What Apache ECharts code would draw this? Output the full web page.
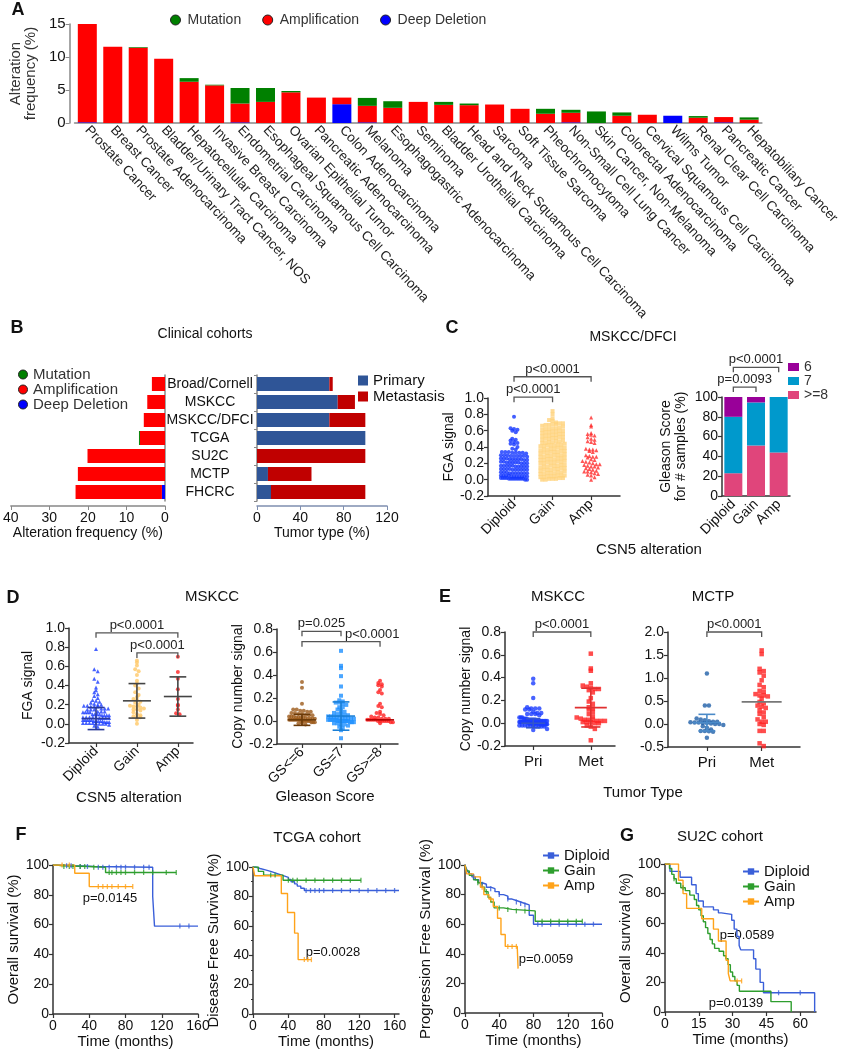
<!DOCTYPE html>
<html>
<head>
<meta charset="utf-8">
<script src="https://cdn.jsdelivr.net/npm/echarts@6/dist/echarts.min.js"></script>
<style>
  html, body { margin: 0; padding: 0; background: #fff; }
  #chart { width: 842px; height: 1050px; }
</style>
</head>
<body>
<div id="chart"></div>
<script>
const FONT = "'Liberation Sans', Arial, sans-serif";

// ---------- A: alteration frequency by cancer type
const cancerTypes = ['Prostate Cancer', 'Breast Cancer', 'Prostate Adenocarcinoma', 'Bladder/Urinary Tract Cancer, NOS',
  'Hepatocellular Carcinoma', 'Invasive Breast Carcinoma', 'Endometrial Carcinoma', 'Esophageal Squamous Cell Carcinoma',
  'Ovarian Epithelial Tumor', 'Pancreatic Adenocarcinoma', 'Colon Adenocarcinoma', 'Melanoma',
  'Esophagogastric Adenocarcinoma', 'Seminoma', 'Bladder Urothelial Carcinoma', 'Head and Neck Squamous Cell Carcinoma',
  'Sarcoma', 'Soft Tissue Sarcoma', 'Pheochromocytoma', 'Non-Small Cell Lung Cancer', 'Skin Cancer, Non-Melanoma',
  'Colorectal Adenocarcinoma', 'Cervical Squamous Cell Carcinoma', 'Wilms Tumor', 'Renal Clear Cell Carcinoma',
  'Pancreatic Cancer', 'Hepatobiliary Cancer'];
const aMutation = [0, 0, 0.1, 0, 0.55, 0.1, 2.35, 2.1, 0.2, 0, 0, 1.2, 1.0, 0, 0.45, 0.25, 0, 0, 0.75, 0.45, 1.75, 0.5, 0, 0, 0.25, 0, 0.35];
const aAmplification = [14.9, 11.55, 11.4, 9.75, 6.25, 5.7, 2.85, 3.2, 4.65, 3.85, 1.0, 2.5, 2.3, 3.2, 2.75, 2.7, 2.8, 2.15, 1.4, 1.45, 0, 1.1, 1.25, 0, 0.8, 0.8, 0.5];
const aDeepDeletion = [0.1, 0, 0, 0, 0, 0, 0.1, 0, 0, 0, 2.85, 0.1, 0, 0, 0, 0, 0, 0, 0, 0.1, 0, 0, 0, 1.1, 0, 0.1, 0];

// ---------- B: clinical cohorts
const cohorts = ['Broad/Cornell', 'MSKCC', 'MSKCC/DFCI', 'TCGA', 'SU2C', 'MCTP', 'FHCRC'];
const bMutation = [0, 0, 0, 0.25, 0, 0, 0];
const bAmplification = [3.4, 4.6, 5.5, 6.5, 20.1, 22.6, 22.4];
const bDeepDeletion = [0, 0, 0, 0, 0, 0, 0.8];
const bPrimary = [66.8, 74.5, 66.8, 100, 0, 10.1, 12.9];
const bMetastasis = [3.1, 15.9, 33.2, 0, 100, 40.2, 87.1];

// ---------- C: MSKCC/DFCI
const cnvGroups = ['Diploid', 'Gain', 'Amp'];
const cFgaDiploid = [0.77, 0.63, 0.62, 0.61, 0.60, 0.58, 0.50, 0.49, 0.48, 0.46, 0.45, 0.44, 0.43, 0.40, 0.38, 0.37,
  0.34, 0.34, 0.34, 0.33, 0.33, 0.33, 0.33, 0.32,
  0.30, 0.30, 0.30, 0.29, 0.29, 0.29, 0.29, 0.29, 0.28,
  0.26, 0.26, 0.26, 0.25, 0.25, 0.25, 0.25, 0.25, 0.24, 0.24,
  0.22, 0.22, 0.21, 0.21, 0.21, 0.21, 0.21, 0.20, 0.20, 0.20,
  0.17, 0.17, 0.17, 0.17, 0.17, 0.16, 0.16, 0.16, 0.16, 0.16,
  0.13, 0.13, 0.13, 0.13, 0.12, 0.12, 0.12, 0.12, 0.12, 0.12,
  0.09, 0.09, 0.09, 0.08, 0.08, 0.08, 0.08, 0.08, 0.08, 0.08,
  0.05, 0.05, 0.05, 0.05, 0.04, 0.04, 0.04, 0.04, 0.04, 0.04, 0.04,
  0.02, 0.02, 0.02, 0.02, 0.01, 0.01, 0.01, 0.01, 0.01, 0.01, 0.01, 0.01, 0.00, 0.00];
const cFgaGain = [0.84, 0.80, 0.75, 0.73, 0.72,
  0.00, 0.00, 0.01, 0.01, 0.01, 0.02, 0.02,
  0.03, 0.03, 0.04, 0.04, 0.04, 0.05, 0.05, 0.05,
  0.07, 0.07, 0.08, 0.08, 0.08, 0.09, 0.09, 0.10,
  0.11, 0.12, 0.12, 0.12, 0.13, 0.13, 0.14, 0.14,
  0.15, 0.16, 0.16, 0.17, 0.17, 0.17, 0.18, 0.18,
  0.20, 0.20, 0.21, 0.21, 0.21, 0.22, 0.22, 0.23,
  0.24, 0.24, 0.25, 0.25, 0.25, 0.26, 0.26, 0.27,
  0.28, 0.28, 0.29, 0.29, 0.30, 0.30, 0.30, 0.31,
  0.32, 0.33, 0.33, 0.34, 0.34, 0.34, 0.35, 0.35,
  0.36, 0.37, 0.37, 0.38, 0.38, 0.39, 0.39, 0.39,
  0.41, 0.41, 0.42, 0.42, 0.42, 0.43, 0.43, 0.44,
  0.45, 0.45, 0.46, 0.46, 0.47, 0.47, 0.48,
  0.49, 0.50, 0.50, 0.51, 0.51, 0.52, 0.52,
  0.53, 0.54, 0.54, 0.55, 0.55, 0.56, 0.56,
  0.57, 0.58, 0.58, 0.59, 0.59, 0.60, 0.60,
  0.61, 0.62, 0.62, 0.63, 0.63, 0.64, 0.65,
  0.66, 0.67, 0.67, 0.68, 0.68, 0.69, 0.69, 0.70];
const cFgaAmp = [0.76, 0.67, 0.65, 0.57, 0.56, 0.55, 0.54, 0.52, 0.50, 0.49, 0.47, 0.46, 0.45, 0.38, 0.37, 0.37, 0.36, 0.35,
  0.34, 0.30, 0.29, 0.28, 0.28, 0.27, 0.25, 0.24, 0.23, 0.22, 0.21, 0.20, 0.19, 0.19, 0.18, 0.17, 0.16, 0.16, 0.15,
  0.14, 0.13, 0.12, 0.11, 0.10, 0.10, 0.09, 0.08, 0.07, 0.06, 0.05, 0.03, 0.00];
const gleasonGroups = ['6', '7', '>=8'];
const gleason6 = [20, 5.5, 0];
const gleason7 = [57, 43.5, 56];
const gleason8 = [23, 51, 44];

// ---------- D: MSKCC
const dFgaDiploid = [0.78, 0.57, 0.55, 0.47, 0.44, 0.38, 0.35, 0.33, 0.31, 0.29, 0.27, 0.25, 0.24, 0.23, 0.22, 0.21,
  0.20, 0.20, 0.19, 0.19, 0.18, 0.18, 0.18, 0.16, 0.16, 0.16, 0.15, 0.15, 0.15,
  0.13, 0.13, 0.13, 0.12, 0.12, 0.12, 0.12, 0.10, 0.10, 0.10, 0.10, 0.09, 0.09, 0.09, 0.09,
  0.07, 0.07, 0.07, 0.07, 0.07, 0.06, 0.06, 0.06, 0.06, 0.04, 0.04, 0.04, 0.04, 0.04, 0.03, 0.03, 0.03, 0.03, 0.03,
  0.02, 0.02, 0.02, 0.01, 0.01, 0.01, 0.01, 0.01, 0.00, 0.00, 0.00, -0.01, -0.02, -0.03];
const dFgaGain = [0.66, 0.64, 0.61, 0.57, 0.55, 0.51, 0.45, 0.42, 0.40, 0.37, 0.33, 0.30, 0.28, 0.26, 0.25, 0.23, 0.22,
  0.20, 0.19, 0.18, 0.18, 0.17, 0.16, 0.15, 0.15, 0.14, 0.12, 0.10, 0.09, 0.08, 0.07, 0.07, 0.04, 0.00];
const dFgaAmp = [0.70, 0.54, 0.47, 0.36, 0.26, 0.20, 0.19, 0.15, 0.11, 0.10];
const dFgaMeanSd = [[0, 0.055, 0.115], [1, 0.24, 0.18], [2, 0.285, 0.205]];
const gleasonScores = ['GS<=6', 'GS=7', 'GS>=8'];
const dCnGs6 = [0.34, 0.29, 0.15, 0.10, 0.10, 0.09, 0.09, 0.08, 0.08, 0.07, 0.07, 0.06, 0.06, 0.05, 0.05, 0.05, 0.04, 0.04,
  0.04, 0.03, 0.03, 0.03, 0.03, 0.02, 0.02, 0.02, 0.02, 0.02, 0.01, 0.01, 0.01, 0.01, 0.01, 0.01, 0.01,
  0.00, 0.00, 0.00, 0.00, 0.00, 0.00, -0.01, -0.01, -0.01, -0.02, -0.02, -0.03];
const dCnGs7 = [0.61, 0.48, 0.46, 0.39, 0.30, 0.22, 0.18, 0.17, 0.16, 0.16, 0.15, 0.14, 0.12, 0.12, 0.10, 0.09, 0.08, 0.07,
  0.06, 0.06, 0.05, 0.05, 0.04, 0.04, 0.04, 0.03, 0.03, 0.03, 0.02, 0.02, 0.02, 0.02, 0.01, 0.01, 0.01, 0.01, 0.01,
  0.00, 0.00, 0.00, 0.00, 0.00, 0.00, -0.01, -0.01, -0.01, -0.02, -0.02, -0.03, -0.03, -0.04, -0.05, -0.06, -0.08, -0.15];
const dCnGs8 = [0.35, 0.33, 0.32, 0.31, 0.30, 0.27, 0.25, 0.24, 0.15, 0.13, 0.12, 0.08, 0.07, 0.06, 0.05, 0.04, 0.03, 0.03,
  0.02, 0.02, 0.02, 0.01, 0.01, 0.01, 0.01, 0.01, 0.00, 0.00, 0.00, 0.00, 0.00, 0.00, -0.01, -0.01, -0.02];
const dCnMeanSd = [[0, 0.01, 0.048], [1, 0.043, 0.123], [2, 0.01, 0]];

// ---------- E: tumor type
const tumorTypes = ['Pri', 'Met'];
const eMskccPri = [0.39, 0.35, 0.22, 0.14, 0.13, 0.13, 0.13, 0.12, 0.12, 0.10, 0.09, 0.09, 0.08, 0.08, 0.08, 0.07,
  0.05, 0.05, 0.05, 0.04, 0.04, 0.04, 0.03, 0.03, 0.03, 0.03, 0.03, 0.03, 0.02, 0.02, 0.02, 0.02, 0.02, 0.02, 0.02, 0.02,
  0.01, 0.01, 0.01, 0.01, 0.01, 0.01, 0.01, 0.01, 0.01, 0.01, 0.01, 0.01, 0.00, 0.00, 0.00, 0.00, 0.00, 0.00, 0.00,
  0.00, 0.00, 0.00, 0.00, 0.00, 0.00, 0.00, -0.01, -0.01, -0.01, -0.01, -0.01, -0.01, -0.01, -0.01, -0.01, -0.01,
  -0.02, -0.02, -0.02, -0.02, -0.02, -0.02, -0.03, -0.03, -0.03, -0.03, -0.05, -0.06];
const eMskccMet = [0.61, 0.48, 0.46, 0.35, 0.33, 0.32, 0.31, 0.30, 0.30, 0.29, 0.27, 0.22, 0.19, 0.17, 0.14, 0.13, 0.12,
  0.10, 0.08, 0.06, 0.05, 0.04, 0.03, 0.03, 0.03, 0.02, 0.02, 0.02, 0.01, 0.01, 0.01, 0.00, 0.00, -0.02, -0.03, -0.05, -0.15];
const eMskccMeanSd = [[0, 0.0, 0.04], [1, 0.137, 0.17]];
const eMctpPri = [1.10, 0.40, 0.40, 0.12, 0.10, 0.08, 0.06, 0.05, 0.05, 0.04, 0.03, 0.03, 0.02, 0.02, 0.01, 0.00, 0.00,
  -0.02, -0.05, -0.08, -0.12, -0.15, -0.15, -0.16, -0.17, -0.30];
const eMctpMet = [1.60, 1.52, 1.20, 1.15, 1.12, 1.05, 0.95, 0.85, 0.80, 0.72, 0.70, 0.65, 0.62, 0.62, 0.60, 0.55, 0.48,
  0.45, 0.40, 0.38, 0.35, 0.30, 0.25, 0.22, 0.15, 0.10, 0.05, 0.05, 0.00, -0.02, -0.15, -0.15, -0.42, -0.48];
const eMctpMeanSd = [[0, 0.03, 0.18], [1, 0.48, 0]];

// ---------- F / G: survival curves, [time, survival %] at each step
const f1Diploid = [[0, 100], [8, 99.5], [25, 99], [45, 98.5], [110, 79], [112, 59], [160, 59]];
const f1Gain = [[0, 100], [4, 99.5], [10, 99], [40, 98.5], [58, 95], [136, 95]];
const f1Amp = [[0, 100], [24, 94.5], [40, 85.5], [88, 85.5]];
const f1DiploidCens = [15, 20, 30, 38, 50, 55, 62, 70, 75, 80, 90, 100, 106, 140, 150];
const f1GainCens = [12, 18, 22, 30, 35, 45, 62, 65, 70, 75, 80, 90, 100, 110, 125, 136];
const f1AmpCens = [10, 18, 50, 55, 60, 65, 72, 80, 88];
const f2Diploid = [[0, 100], [3, 99], [8, 98], [14, 97], [20, 96], [25, 95], [30, 94], [35, 93], [40, 91.5], [43, 90],
  [47, 88.5], [50, 87], [54, 85.5], [58, 84], [165, 84]];
const f2Gain = [[0, 100], [6, 97], [12, 94.5], [34, 91], [122, 91]];
const f2Amp = [[0, 100], [2, 94], [32, 82], [39, 69], [47, 55], [51, 37], [66, 37]];
const f2DiploidCens = [60, 65, 70, 75, 80, 90, 100, 110, 120, 130, 140, 150, 160];
const f2GainCens = [20, 25, 40, 45, 50, 60, 70, 80, 90, 100, 110, 122];
const f2AmpCens = [58, 62, 66];
const f3Diploid = [[0, 100], [1, 98], [3, 96], [5, 94], [8, 92], [12, 90], [16, 88], [20, 87], [25, 85], [30, 84], [35, 82],
  [40, 80], [45, 79], [50, 77], [55, 76], [60, 75], [65, 74], [70, 73], [75, 66], [80, 60], [160, 60]];
const f3Gain = [[0, 100], [2, 96], [5, 93], [10, 90], [15, 88], [20, 85], [23, 82], [27, 78], [30, 75], [34, 71], [45, 70],
  [55, 69], [82, 62], [137, 62]];
const f3Amp = [[0, 100], [2, 94], [10, 92], [18, 85], [22, 80], [28, 77], [33, 72], [38, 64], [42, 53], [47, 45], [61, 45], [62, 30]];
const f3DiploidCens = [10, 20, 30, 40, 50, 60, 65, 70, 85, 90, 100, 110, 120, 130, 140, 150];
const f3GainCens = [15, 25, 40, 50, 60, 70, 90, 100, 110, 120, 130, 137];
const f3AmpCens = [20, 30, 50, 55, 60];
const gDiploid = [[0, 100], [2.2, 95], [6.7, 91], [11.8, 86], [13.8, 80], [14.8, 75], [17, 71], [21.5, 69], [23.7, 67],
  [25, 66], [29.6, 62], [30.7, 56], [31.9, 51], [32.9, 45], [33.6, 42], [39.3, 36], [40.3, 29], [42.2, 20], [43.7, 13],
  [66.4, 0]];
const gGain = [[0, 100], [2, 97], [3, 93], [4, 90], [5, 87], [7, 84], [9, 82], [11, 79], [13, 76], [14, 72], [15, 69], [16, 65],
  [17, 61], [18, 57], [19, 53], [20, 49], [21, 46], [22, 43], [24, 41], [26, 38], [27, 36], [28, 32], [29, 27], [30, 24],
  [31, 21], [32, 18], [33, 14], [47, 7], [56, 0]];
const gAmp = [[0, 100], [6, 89], [8, 80], [9.6, 70], [16.3, 63], [21.5, 56], [23.7, 48], [27.1, 35], [28.1, 26], [28.9, 21], [34, 21]];
const gDiploidCens = [50.4, 60];
const gGainCens = [4, 8];
const gAmpCens = [32, 34];

// ---------- helpers
const COL = { mut: '#008000', amp: '#ff0000', del: '#0000ff', dip: '#3a5fd9', gain: '#2e9e2e', ampKM: '#ffa31a' };

function swarm(values, center, lay) {
  const rows = {};
  values.forEach(v => { const k = Math.round(v / lay.row); (rows[k] = rows[k] || []).push(v); });
  const pts = [];
  Object.keys(rows).forEach(k => {
    const r = rows[k], n = r.length;
    let step = lay.dx;
    if (n > 1 && (n - 1) * step > 2 * lay.half) step = 2 * lay.half / (n - 1);
    r.forEach((v, i) => pts.push([center + (i - (n - 1) / 2) * step, v]));
  });
  return pts;
}

function dots(ax, values, center, color, symbol, lay) {
  return { type: 'scatter', xAxisIndex: ax, yAxisIndex: ax, symbol, symbolSize: lay.size, silent: true, z: 3,
    itemStyle: { color }, data: swarm(values, center, lay) };
}

function meanSd(ax, list, colors, halfW) {
  return {
    type: 'custom', xAxisIndex: ax, yAxisIndex: ax, silent: true, z: 6, clip: false,
    data: list.map(d => [d[0], d[1], d[2]]),
    renderItem: (params, api) => {
      const d = list[params.dataIndex], c = colors[params.dataIndex], hm = halfW[params.dataIndex], hc = hm * 0.6;
      const mid = api.coord([d[0], d[1]]);
      const st = { stroke: c, lineWidth: 1.6 };
      const ch = [{ type: 'line', shape: { x1: mid[0] - hm, y1: mid[1], x2: mid[0] + hm, y2: mid[1] }, style: st }];
      if (d[2] > 0) {
        const t = api.coord([d[0], d[1] + d[2]]), b = api.coord([d[0], d[1] - d[2]]);
        ch.push({ type: 'line', shape: { x1: mid[0], y1: t[1], x2: mid[0], y2: b[1] }, style: st });
        ch.push({ type: 'line', shape: { x1: mid[0] - hc, y1: t[1], x2: mid[0] + hc, y2: t[1] }, style: st });
        ch.push({ type: 'line', shape: { x1: mid[0] - hc, y1: b[1], x2: mid[0] + hc, y2: b[1] }, style: st });
      }
      return { type: 'group', children: ch };
    }
  };
}

// bracket: [fromX, toX, y, text, labelX?]
function brackets(ax, list) {
  return {
    type: 'custom', xAxisIndex: ax, yAxisIndex: ax, silent: true, z: 7, clip: false,
    data: list.map((b, i) => [b[0], b[2], i]),
    renderItem: (params, api) => {
      const b = list[params.dataIndex];
      const p1 = api.coord([b[0], b[2]]), p2 = api.coord([b[1], b[2]]);
      const lx = b[4] != null ? api.coord([b[4], b[2]])[0] : (p1[0] + p2[0]) / 2;
      return { type: 'group', children: [
        { type: 'polyline', shape: { points: [[p1[0], p1[1] + 5], [p1[0], p1[1]], [p2[0], p2[1]], [p2[0], p2[1] + 5]] },
          style: { stroke: '#555', lineWidth: 1.3, fill: null } },
        { type: 'text', x: lx, y: p1[1] - 1, style: { text: b[3], fill: '#222', font: '13px ' + FONT, align: 'center', verticalAlign: 'bottom' } }
      ] };
    }
  };
}

function survivalAt(steps, t) {
  let v = steps[0][1];
  steps.forEach(s => { if (s[0] <= t) v = s[1]; });
  return v;
}

function km(ax, name, steps, cens, color) {
  return [
    { type: 'line', name, xAxisIndex: ax, yAxisIndex: ax, data: steps, step: 'end', showSymbol: false, symbol: 'rect',
      symbolSize: [2, 6], silent: true, z: 3, lineStyle: { color, width: 1.4 }, itemStyle: { color } },
    { type: 'scatter', xAxisIndex: ax, yAxisIndex: ax, silent: true, z: 4, symbol: 'rect', symbolSize: [1.3, 5],
      itemStyle: { color }, data: cens.map(t => [t, survivalAt(steps, t)]) }
  ];
}

const fmt1 = v => (Math.abs(v) < 1e-9 ? 0 : v).toFixed(1);

function axis(o) {
  const base = {
    axisLine: { show: true, onZero: false, lineStyle: { color: '#333', width: 1.5 } },
    axisTick: { show: true, length: 4, lineStyle: { color: '#333', width: 1.2 } },
    axisLabel: { color: '#111', fontSize: 14, fontFamily: FONT, margin: 5 },
    splitLine: { show: false },
    nameLocation: 'middle',
    nameTextStyle: { color: '#111', fontSize: 14, fontFamily: FONT }
  };
  const out = Object.assign({}, base, o);
  ['axisLine', 'axisTick', 'axisLabel', 'nameTextStyle'].forEach(k => {
    if (o[k]) out[k] = Object.assign({}, base[k], o[k]);
  });
  return out;
}

function catValueX(grid, min, max, names, rotate) {
  const vals = names.map((n, i) => i);
  return axis({ gridIndex: grid, type: 'value', min, max,
    axisTick: { customValues: vals },
    axisLabel: { customValues: vals, formatter: v => names[Math.round(v)], rotate: rotate || 0, margin: rotate ? 6 : 8,
      fontSize: rotate ? 14 : 15 } });
}

function text(t, x, y, size, weight) {
  return { type: 'text', x, y, silent: true,
    style: { text: t, fill: '#111', font: (weight || 'normal') + ' ' + (size || 14) + 'px ' + FONT,
      textAlign: 'center', textVerticalAlign: 'middle' } };
}

// ---------- grids
const grids = [
  { left: 64, top: 24, width: 702, height: 99 },   // 0 A
  { left: 7, top: 375, width: 158, height: 126 },  // 1 B left
  { left: 257, top: 375, width: 130, height: 126 },// 2 B right
  { left: 488, top: 398, width: 132, height: 98 }, // 3 C left
  { left: 722, top: 397, width: 68, height: 99 },  // 4 C right
  { left: 69, top: 628, width: 124, height: 115 }, // 5 D left
  { left: 277, top: 629, width: 121, height: 115 },// 6 D right
  { left: 505, top: 632, width: 110, height: 114 },// 7 E left
  { left: 668, top: 632, width: 132, height: 115 },// 8 E right
  { left: 53, top: 865, width: 145, height: 150 }, // 9 F1
  { left: 253, top: 867, width: 146, height: 148 },// 10 F2
  { left: 465, top: 865, width: 137, height: 148 },// 11 F3
  { left: 665, top: 864, width: 151, height: 148 } // 12 G
];

const gray = { lineStyle: { color: '#888', width: 1.5 } };

const xAxes = [
  axis({ gridIndex: 0, type: 'category', data: cancerTypes, axisLine: gray, axisTick: { show: false },
    axisLabel: { interval: 0, rotate: -47, fontSize: 13.5, color: '#222', margin: 5 } }),
  axis({ gridIndex: 1, type: 'value', min: 0, max: 40, interval: 10, inverse: true, offset: 5, axisLine: gray,
    axisTick: { lineStyle: { color: '#888' } }, name: 'Alteration frequency (%)', nameGap: 20 }),
  axis({ gridIndex: 2, type: 'value', min: 0, max: 120, interval: 40, offset: 5,
    axisLine: { lineStyle: { color: '#7f8fb0', width: 1.5 } }, axisTick: { lineStyle: { color: '#7f8fb0' } },
    name: 'Tumor type (%)', nameGap: 20 }),
  catValueX(3, -0.675, 2.75, cnvGroups, 45),
  axis({ gridIndex: 4, type: 'category', data: cnvGroups, axisTick: { show: false },
    axisLabel: { rotate: 45, interval: 0, margin: 6 } }),
  catValueX(5, -0.66, 2.37, cnvGroups, 45),
  catValueX(6, -0.64, 2.46, gleasonScores, 45),
  catValueX(7, -0.49, 1.42, tumorTypes, 0),
  catValueX(8, -0.71, 1.7, tumorTypes, 0),
  axis({ gridIndex: 9, type: 'value', min: 0, max: 160, interval: 40, name: 'Time (months)', nameGap: 20,
    nameTextStyle: { fontSize: 15 } }),
  axis({ gridIndex: 10, type: 'value', min: 0, max: 165, interval: 40, name: 'Time (months)', nameGap: 20,
    nameTextStyle: { fontSize: 15 }, axisLabel: { showMaxLabel: false } }),
  axis({ gridIndex: 11, type: 'value', min: 0, max: 160, interval: 40, name: 'Time (months)', nameGap: 20,
    nameTextStyle: { fontSize: 15 } }),
  axis({ gridIndex: 12, type: 'value', min: 0, max: 67, interval: 15, name: 'Time (months)', nameGap: 20,
    nameTextStyle: { fontSize: 15 }, axisLabel: { showMaxLabel: false } })
];

const yAxes = [
  axis({ gridIndex: 0, type: 'value', min: 0, max: 15, interval: 5, offset: 5, axisLine: gray,
    axisTick: { lineStyle: { color: '#888' } }, axisLabel: { fontSize: 15, margin: 4 },
    name: 'Alteration\nfrequency (%)', nameGap: 17, nameTextStyle: { color: '#333', fontSize: 15, lineHeight: 15 } }),
  axis({ gridIndex: 1, type: 'category', data: cohorts, inverse: true, position: 'right', axisLine: gray,
    axisTick: { show: false }, axisLabel: { show: false } }),
  axis({ gridIndex: 2, type: 'category', data: cohorts, inverse: true, axisLine: gray,
    axisTick: { length: 3, lineStyle: { color: '#888' } }, axisLabel: { interval: 0, align: 'center', margin: 47 } }),
  axis({ gridIndex: 3, type: 'value', min: -0.2, max: 1.0, interval: 0.2, axisLabel: { formatter: fmt1, margin: 4 },
    name: 'FGA signal', nameGap: 31 }),
  axis({ gridIndex: 4, type: 'value', min: 0, max: 100, interval: 20, axisLabel: { margin: 4 },
    name: 'Gleason Score\nfor # samples (%)', nameGap: 33, nameTextStyle: { lineHeight: 15 } }),
  axis({ gridIndex: 5, type: 'value', min: -0.2, max: 1.0, interval: 0.2, axisLabel: { formatter: fmt1, margin: 4 },
    name: 'FGA signal', nameGap: 34 }),
  axis({ gridIndex: 6, type: 'value', min: -0.2, max: 0.8, interval: 0.2, axisLabel: { formatter: fmt1, margin: 4 },
    name: 'Copy number signal', nameGap: 30 }),
  axis({ gridIndex: 7, type: 'value', min: -0.2, max: 0.8, interval: 0.2, axisLabel: { formatter: fmt1, margin: 4 },
    name: 'Copy number signal', nameGap: 32 }),
  axis({ gridIndex: 8, type: 'value', min: -0.5, max: 2.0, interval: 0.5, axisLabel: { formatter: fmt1, margin: 4 } }),
  axis({ gridIndex: 9, type: 'value', min: 0, max: 100, interval: 20, axisLabel: { margin: 4 },
    name: 'Overall survival (%)', nameGap: 26, nameTextStyle: { fontSize: 15 } }),
  axis({ gridIndex: 10, type: 'value', min: 0, max: 100, interval: 20, axisLabel: { margin: 4 },
    minorTick: { show: true, splitNumber: 2, length: 2, lineStyle: { color: '#333' } },
    name: 'Disease Free Survival (%)', nameGap: 26, nameTextStyle: { fontSize: 15 } }),
  axis({ gridIndex: 11, type: 'value', min: 0, max: 100, interval: 20, axisLabel: { margin: 4 },
    name: 'Progression Free Survival (%)', nameGap: 32, nameTextStyle: { fontSize: 15 } }),
  axis({ gridIndex: 12, type: 'value', min: 0, max: 100, interval: 20, axisLabel: { margin: 4 },
    name: 'Overall survival (%)', nameGap: 30, nameTextStyle: { fontSize: 15 } })
];

// swarm layouts (data units on each panel's axes)
const layC = { row: 0.042, dx: 0.09, half: 0.34, size: 4 };
const layDL = { row: 0.035, dx: 0.085, half: 0.32, size: 4 };
const layDR = { row: 0.03, dx: 0.09, half: 0.33, size: 4 };
const layELpri = { row: 0.035, dx: 0.07, half: 0.24, size: 4.5 };
const layELmet = { row: 0.035, dx: 0.07, half: 0.35, size: 4.5 };
const layERpri = { row: 0.09, dx: 0.075, half: 0.3, size: 4.5 };
const layERmet = { row: 0.09, dx: 0.075, half: 0.41, size: 4.5 };

const series = [
  // A
  { type: 'bar', name: 'Deep Deletion', stack: 'a', xAxisIndex: 0, yAxisIndex: 0, barWidth: 19, data: aDeepDeletion, itemStyle: { color: COL.del } },
  { type: 'bar', name: 'Amplification', stack: 'a', xAxisIndex: 0, yAxisIndex: 0, barWidth: 19, data: aAmplification, itemStyle: { color: COL.amp } },
  { type: 'bar', name: 'Mutation', stack: 'a', xAxisIndex: 0, yAxisIndex: 0, barWidth: 19, data: aMutation, itemStyle: { color: COL.mut } },
  // B
  { type: 'bar', name: 'Deep Deletion', stack: 'bl', xAxisIndex: 1, yAxisIndex: 1, barWidth: 14, data: bDeepDeletion, itemStyle: { color: COL.del } },
  { type: 'bar', name: 'Amplification', stack: 'bl', xAxisIndex: 1, yAxisIndex: 1, barWidth: 14, data: bAmplification, itemStyle: { color: COL.amp } },
  { type: 'bar', name: 'Mutation', stack: 'bl', xAxisIndex: 1, yAxisIndex: 1, barWidth: 14, data: bMutation, itemStyle: { color: COL.mut } },
  { type: 'bar', name: 'Primary', stack: 'br', xAxisIndex: 2, yAxisIndex: 2, barWidth: 14, data: bPrimary, itemStyle: { color: '#2f5597' } },
  { type: 'bar', name: 'Metastasis', stack: 'br', xAxisIndex: 2, yAxisIndex: 2, barWidth: 14, data: bMetastasis, itemStyle: { color: '#c00000' } },
  // C
  dots(3, cFgaDiploid, 0, '#1336ff', 'circle', layC),
  dots(3, cFgaGain, 1, '#ffd27a', 'rect', layC),
  dots(3, cFgaAmp, 2, '#ff2a2a', 'triangle', layC),
  brackets(3, [[0, 2, 1.26, 'p<0.0001'], [0, 1, 1.01, 'p<0.0001']]),
  { type: 'bar', name: '>=8', stack: 'cr', xAxisIndex: 4, yAxisIndex: 4, barWidth: 18, data: gleason8, itemStyle: { color: '#e0457b' } },
  { type: 'bar', name: '7', stack: 'cr', xAxisIndex: 4, yAxisIndex: 4, barWidth: 18, data: gleason7, itemStyle: { color: '#0099cc' } },
  { type: 'bar', name: '6', stack: 'cr', xAxisIndex: 4, yAxisIndex: 4, barWidth: 18, data: gleason6, itemStyle: { color: '#990099' } },
  brackets(4, [[0, 2, 130, 'p<0.0001'], [0, 1, 110, 'p=0.0093']]),
  // D
  dots(5, dFgaDiploid, 0, '#1a3cff', 'triangle', layDL),
  dots(5, dFgaGain, 1, '#ffc866', 'circle', layDL),
  dots(5, dFgaAmp, 2, '#ff2020', 'circle', layDL),
  meanSd(5, dFgaMeanSd, ['#2a3a9a', '#444', '#444'], [14, 14, 14]),
  brackets(5, [[0, 2, 0.95, 'p<0.0001'], [1, 2, 0.74, 'p<0.0001']]),
  dots(6, dCnGs6, 0, '#9c5a1a', 'circle', layDR),
  dots(6, dCnGs7, 1, '#1e90ff', 'rect', layDR),
  dots(6, dCnGs8, 2, '#ff2020', 'circle', layDR),
  meanSd(6, dCnMeanSd, ['#6b3a08', '#1a7fd6', '#b00000'], [14, 14, 14]),
  brackets(6, [[0, 1, 0.78, 'p=0.025'], [0, 2, 0.69, 'p<0.0001', 1.8]]),
  // E
  dots(7, eMskccPri, 0, '#1a3cff', 'circle', layELpri),
  dots(7, eMskccMet, 1, '#ff2020', 'rect', layELmet),
  meanSd(7, eMskccMeanSd, ['#3355cc', '#e03030'], [12, 16]),
  brackets(7, [[0, 1, 0.8, 'p<0.0001']]),
  dots(8, eMctpPri, 0, '#1f5fa8', 'circle', layERpri),
  dots(8, eMctpMet, 1, '#ff2020', 'rect', layERmet),
  meanSd(8, eMctpMeanSd, ['#4a8ac8', '#777'], [14, 20]),
  brackets(8, [[0, 1, 2.0, 'p<0.0001']]),
  // F / G
  ...km(9, 'Diploid', f1Diploid, f1DiploidCens, COL.dip),
  ...km(9, 'Gain', f1Gain, f1GainCens, COL.gain),
  ...km(9, 'Amp', f1Amp, f1AmpCens, COL.ampKM),
  ...km(10, 'Diploid', f2Diploid, f2DiploidCens, COL.dip),
  ...km(10, 'Gain', f2Gain, f2GainCens, COL.gain),
  ...km(10, 'Amp', f2Amp, f2AmpCens, COL.ampKM),
  ...km(11, 'Diploid', f3Diploid, f3DiploidCens, COL.dip),
  ...km(11, 'Gain', f3Gain, f3GainCens, COL.gain),
  ...km(11, 'Amp', f3Amp, f3AmpCens, COL.ampKM),
  ...km(12, 'Diploid', gDiploid, gDiploidCens, COL.dip),
  ...km(12, 'Gain', gGain, gGainCens, COL.gain),
  ...km(12, 'Amp', gAmp, gAmpCens, COL.ampKM)
];

const legTxt = { fontSize: 14, color: '#333', fontFamily: FONT };
const kmLegTxt = { fontSize: 15, color: '#111', fontFamily: FONT, lineHeight: 14 };
const legends = [
  { data: ['Mutation', 'Amplification', 'Deep Deletion'], left: 165, top: 8, icon: 'circle', itemWidth: 14, itemHeight: 10,
    itemGap: 21, textStyle: legTxt, itemStyle: { borderColor: '#222', borderWidth: 1 }, selectedMode: false },
  { data: ['Mutation', 'Amplification', 'Deep Deletion'], orient: 'vertical', left: 13, top: 362, icon: 'circle',
    itemWidth: 10, itemHeight: 9, itemGap: 0, textStyle: Object.assign({}, legTxt, { fontSize: 15, lineHeight: 14 }),
    itemStyle: { borderColor: '#222', borderWidth: 1 }, selectedMode: false },
  { data: ['Primary', 'Metastasis'], orient: 'vertical', left: 353, top: 368, icon: 'rect', itemWidth: 10, itemHeight: 10,
    itemGap: 1, textStyle: Object.assign({}, legTxt, { fontSize: 15, color: '#111' }), selectedMode: false },
  { data: ['6', '7', '>=8'], orient: 'vertical', left: 783, top: 355, icon: 'rect', itemWidth: 11, itemHeight: 8,
    itemGap: 0, textStyle: Object.assign({}, legTxt, { fontSize: 14, lineHeight: 12 }), selectedMode: false },
  { data: ['Diploid', 'Gain', 'Amp'], orient: 'vertical', left: 537, top: 843, itemWidth: 16, itemHeight: 8, itemGap: 0,
    textStyle: kmLegTxt, selectedMode: false },
  { data: ['Diploid', 'Gain', 'Amp'], orient: 'vertical', left: 737, top: 859, itemWidth: 16, itemHeight: 8, itemGap: 0,
    textStyle: kmLegTxt, selectedMode: false }
];

const graphics = [
  text('A', 18, 10, 18, 'bold'), text('B', 17, 328, 18, 'bold'), text('C', 452, 328, 18, 'bold'),
  text('D', 13, 598, 18, 'bold'), text('E', 445, 597, 18, 'bold'), text('F', 21, 835, 18, 'bold'), text('G', 627, 836, 18, 'bold'),
  text('Clinical cohorts', 205, 334), text('MSKCC/DFCI', 633, 337), text('CSN5 alteration', 649, 550, 15),
  text('MSKCC', 212, 597, 15), text('MSKCC', 558, 597, 15), text('MCTP', 713, 597, 15),
  text('CSN5 alteration', 129, 798, 15), text('Gleason Score', 325, 797, 15), text('Tumor Type', 643, 793, 15),
  text('TCGA cohort', 317, 838, 15), text('SU2C cohort', 720, 837, 15),
  text('p=0.0145', 110, 898, 13), text('p=0.0028', 333, 952, 13), text('p=0.0059', 546, 959, 13),
  text('p=0.0589', 747, 935, 13), text('p=0.0139', 736, 1003, 13)
];

const chart = echarts.init(document.getElementById('chart'), null, { renderer: 'canvas' });
chart.setOption({
  animation: false,
  backgroundColor: '#fff',
  textStyle: { fontFamily: FONT },
  grid: grids,
  xAxis: xAxes,
  yAxis: yAxes,
  legend: legends,
  series,
  graphic: graphics
});
window.addEventListener('resize', () => chart.resize());
</script>
</body>
</html>
